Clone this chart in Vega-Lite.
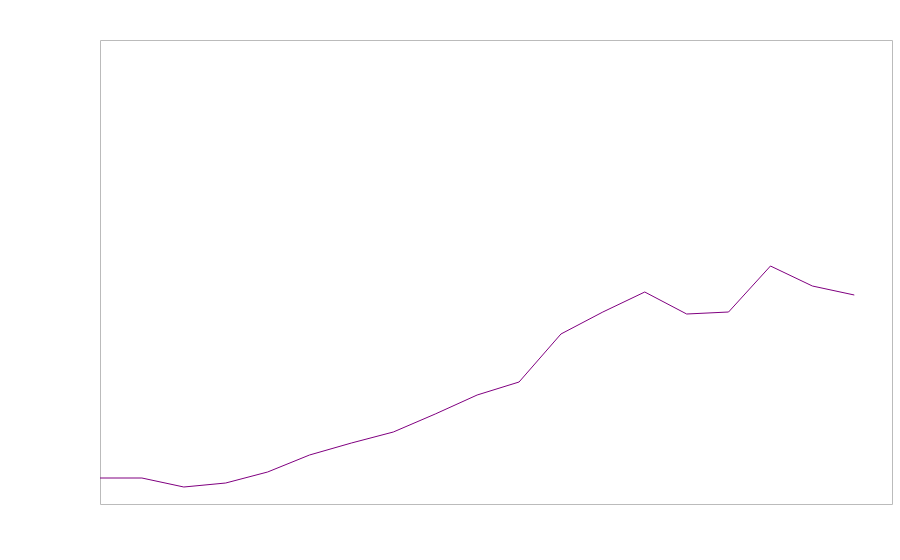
{
  "$schema": "https://vega.github.io/schema/vega-lite/v6.json",
  "width": 792,
  "height": 464,
  "autosize": {"type": "none"},
  "padding": {"left": 100, "top": 40, "right": 8, "bottom": 56},
  "background": "white",
  "config": {"view": {"stroke": "#bbbbbb", "strokeWidth": 1}},
  "data": {"values": [
    {"i": 0, "v": 26},
    {"i": 1, "v": 26},
    {"i": 2, "v": 17},
    {"i": 3, "v": 21},
    {"i": 4, "v": 32},
    {"i": 5, "v": 49},
    {"i": 6, "v": 61},
    {"i": 7, "v": 72},
    {"i": 8, "v": 90},
    {"i": 9, "v": 109},
    {"i": 10, "v": 122},
    {"i": 11, "v": 170},
    {"i": 12, "v": 192},
    {"i": 13, "v": 212},
    {"i": 14, "v": 190},
    {"i": 15, "v": 192},
    {"i": 16, "v": 238},
    {"i": 17, "v": 218},
    {"i": 18, "v": 209}
  ]},
  "mark": {"type": "line", "color": "#800080", "strokeWidth": 1},
  "encoding": {
    "x": {"field": "i", "type": "quantitative", "scale": {"domain": [0, 18.9], "nice": false, "zero": false}, "axis": null},
    "y": {"field": "v", "type": "quantitative", "scale": {"domain": [0, 464], "nice": false}, "axis": null}
  }
}
